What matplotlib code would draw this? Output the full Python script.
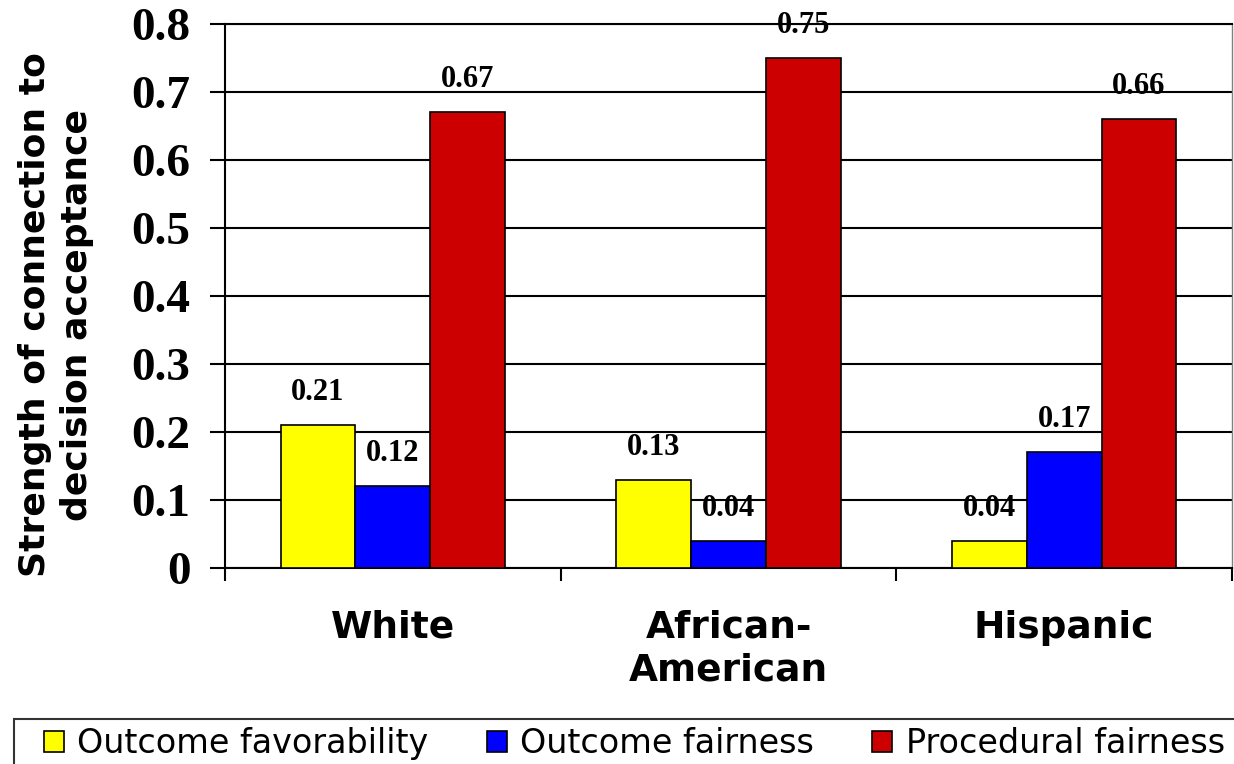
import matplotlib
matplotlib.use("Agg")
import matplotlib.pyplot as plt
from matplotlib.patches import Patch, Rectangle
import numpy as np

# data
groups = ["White", "African-\nAmerican", "Hispanic"]
series = ["Outcome favorability", "Outcome fairness", "Procedural fairness"]
outcome_favorability = [0.21, 0.13, 0.04]
outcome_fairness = [0.12, 0.04, 0.17]
procedural_fairness = [0.67, 0.75, 0.66]
y_ticks = [0, 0.1, 0.2, 0.3, 0.4, 0.5, 0.6, 0.7, 0.8]
y_tick_labels = ["0", "0.1", "0.2", "0.3", "0.4", "0.5", "0.6", "0.7", "0.8"]

colors = ["#FFFF00", "#0000FF", "#CC0000"]
serif = "Liberation Serif"
sans = "DejaVu Sans"

fig = plt.figure(figsize=(12.34, 7.64), dpi=100)
fig.set_facecolor("white")
ax = fig.add_axes([225 / 1234, 1 - 568 / 764, 1007 / 1234, 544 / 764])

x = np.arange(len(groups))
width = 0.223
values = [outcome_favorability, outcome_fairness, procedural_fairness]

for i, (vals, color) in enumerate(zip(values, colors)):
    offset = (i - 1) * width
    bars = ax.bar(x + offset, vals, width, color=color, edgecolor="black",
                  linewidth=1.2, zorder=3)
    for bar, v in zip(bars, vals):
        ax.annotate(f"{v:.2f}", (bar.get_x() + bar.get_width() / 2, v),
                    xytext=(0, 13), textcoords="offset points",
                    ha="center", va="bottom", fontsize=22,
                    fontweight="bold", family=serif, zorder=4)

ax.set_xlim(-0.5, 2.5)
ax.set_ylim(0, 0.8)

# y axis
ax.set_yticks(y_ticks)
ax.set_yticklabels(y_tick_labels, fontsize=34, fontweight="bold", family=serif)
ax.tick_params(axis="y", length=11, width=1.5, pad=14, colors="black")
ax.grid(axis="y", color="black", linewidth=1.5, zorder=0)
ax.set_axisbelow(True)

# x axis: labels at group centers, tick marks at group boundaries
ax.set_xticks(x)
ax.set_xticklabels(groups, fontsize=27, fontweight="bold", family=sans,
                   linespacing=1.25)
ax.tick_params(axis="x", which="major", length=0, pad=30)
ax.set_xticks([-0.5, 0.5, 1.5, 2.5], minor=True)
ax.tick_params(axis="x", which="minor", length=9, width=1.5, direction="out")

ax.spines["left"].set_linewidth(1.5)
ax.spines["bottom"].set_linewidth(1.5)
ax.spines["top"].set_linewidth(1.5)
ax.spines["right"].set_color("#808080")
ax.spines["right"].set_linewidth(1.0)

fig.text(56 / 1234, 1 - 315 / 764, "Strength of connection to\ndecision acceptance",
         rotation=90, ha="center", va="center", multialignment="center",
         fontsize=26, fontweight="bold", family=sans, linespacing=1.3)

# legend entries, with its box running off the bottom/right edge
handles = [Patch(facecolor=c, edgecolor="black", linewidth=1.2) for c in colors]
leg = fig.legend(handles, series, loc="upper left",
                 bbox_to_anchor=(44 / 1234, 1 - 727 / 764), ncol=3,
                 prop={"family": sans, "size": 24},
                 frameon=False, borderaxespad=0, borderpad=0,
                 handlelength=0.6, handleheight=0.6,
                 handletextpad=0.4, columnspacing=1.75)
fig.add_artist(Rectangle((14 / 1234, -0.1), 1.2, 0.1 + (1 - 719 / 764),
                         transform=fig.transFigure, fill=False,
                         edgecolor="#333333", linewidth=1.5))

fig.savefig("out.png", dpi=100)
